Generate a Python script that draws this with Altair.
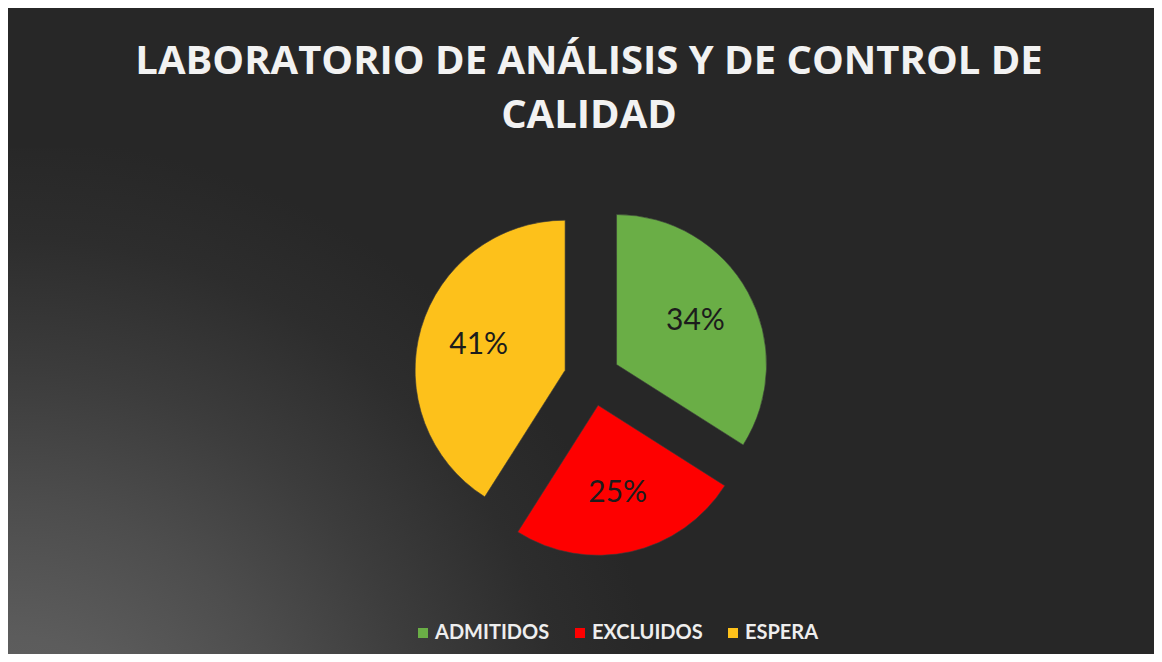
import altair as alt
import pandas as pd

# ---- data ----
categories = ["ADMITIDOS", "EXCLUIDOS", "ESPERA"]
percentages = [34, 25, 41]
label_texts = ["34%", "25%", "41%"]
slice_colors = ["#6aae46", "#fe0000", "#fdc11b"]
title_lines = ["LABORATORIO DE ANÁLISIS Y DE CONTROL DE", "CALIDAD"]

# ---- layout / style constants ----
TOTAL_W, TOTAL_H = 1146, 646
PIE_CX, PIE_CY = 584, 230      # pie centre inside the view (pixels)
PIE_R = 150
EXPLODE = 28
LABEL_R = 90

df = pd.DataFrame({
    "categoria": categories,
    "valor": percentages,
    "etiqueta": label_texts,
    "orden": list(range(len(categories))),
})

base = (
    alt.Chart(df)
    .transform_window(cum="sum(valor)", sort=[alt.SortField("orden")], frame=[None, 0])
    .transform_joinaggregate(total="sum(valor)")
    .transform_calculate(
        t0="2*PI*(datum.cum - datum.valor)/datum.total",
        t1="2*PI*datum.cum/datum.total",
        mid="2*PI*(datum.cum - datum.valor/2)/datum.total",
    )
    .transform_calculate(
        ox=f"{PIE_CX} + {EXPLODE}*sin(datum.mid)",
        oy=f"{PIE_CY} - {EXPLODE}*cos(datum.mid)",
        lx=f"{PIE_CX} + {EXPLODE + LABEL_R}*sin(datum.mid)",
        ly=f"{PIE_CY} - {EXPLODE + LABEL_R}*cos(datum.mid)",
    )
)

# soft light glow from below the lower-left corner of the background
glow = alt.Chart(pd.DataFrame({"k": [0]})).mark_rect(
    color=alt.RadialGradient(
        gradient="radial",
        x1=0, y1=0.85, r1=0,
        x2=0, y2=0.85, r2=0.58,
        stops=[
            alt.GradientStop(offset=0, color="#646464"),
            alt.GradientStop(offset=0.25, color="#5c5c5c"),
            alt.GradientStop(offset=0.45, color="#4d4d4d"),
            alt.GradientStop(offset=0.65, color="#3c3c3c"),
            alt.GradientStop(offset=0.85, color="#2d2d2d"),
            alt.GradientStop(offset=1, color="#272727"),
        ],
    )
).encode(
    x=alt.value(0), x2=alt.value("width"),
    y=alt.value(0), y2=alt.value("height"),
)

arcs = base.mark_arc(outerRadius=PIE_R, stroke="#3a3a3a", strokeWidth=0.6).encode(
    x=alt.X("ox:Q", scale=None, axis=None),
    y=alt.Y("oy:Q", scale=None, axis=None),
    theta=alt.Theta("t0:Q", scale=None, stack=None),
    theta2="t1:Q",
    color=alt.Color(
        "categoria:N",
        scale=alt.Scale(domain=categories, range=slice_colors),
        sort=categories,
        legend=alt.Legend(
            orient="none",
            legendX=405,
            legendY=475,
            direction="horizontal",
            title=None,
            symbolType="square",
            symbolSize=100,
            symbolStrokeWidth=0,
            labelFont="Lato",
            labelFontSize=20,
            labelFontWeight="bold",
            labelColor="#eeeeee",
            labelOffset=2,
            columnPadding=20,
        ),
    ),
)

labels = base.mark_text(
    font="Lato", fontSize=30, color="#1c1c1c", align="center", baseline="middle"
).encode(
    x=alt.X("lx:Q", scale=None, axis=None),
    y=alt.Y("ly:Q", scale=None, axis=None),
    text="etiqueta:N",
)

chart = (
    alt.layer(glow, arcs, labels)
    .properties(
        width=TOTAL_W,
        height=TOTAL_H,
        autosize=alt.AutoSizeParams(type="fit", contains="padding"),
        padding={"top": 34, "left": 0, "right": 0, "bottom": 0},
        background="#272727",
        title=alt.TitleParams(
            text=title_lines,
            font="Open Sans",
            fontSize=40,
            fontWeight="bold",
            color="#f2f2f2",
            anchor="middle",
            lineHeight=54,
            offset=12,
            dx=8,
        ),
    )
    .configure_view(strokeWidth=0)
)

chart.save("out.html", embed_options={"renderer": "svg", "actions": False})
